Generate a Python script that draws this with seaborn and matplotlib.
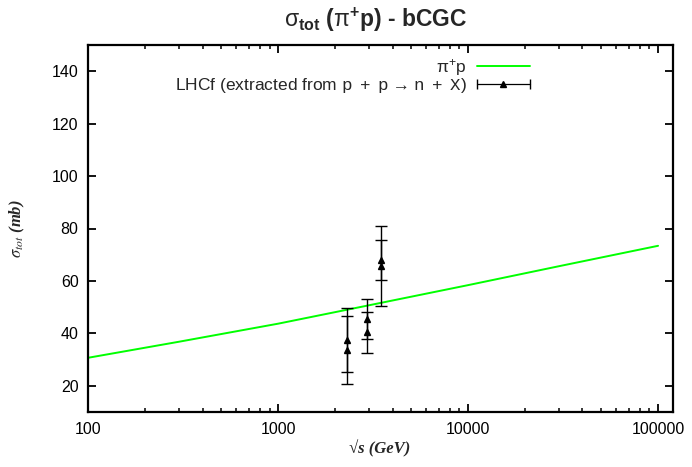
import matplotlib
matplotlib.use('Agg')
import matplotlib.pyplot as plt
import seaborn as sns
from matplotlib.lines import Line2D
from matplotlib.legend_handler import HandlerLine2D

# --- DATA ---
sqrt_s = [100, 300, 1000, 3000, 10000, 30000, 100000]
sigma_pip = [30.7, 36.8, 43.7, 50.7, 58.4, 65.6, 73.4]

lhcf_sqrt_s = [2290, 2290, 2950, 2950, 3470, 3470]
lhcf_sigma = [37.5, 33.5, 45.4, 40.4, 68.1, 65.7]
lhcf_err = [12.2, 13.0, 7.7, 7.8, 7.7, 15.2]

x_ticks = [100, 1000, 10000, 100000]
y_ticks = [20, 40, 60, 80, 100, 120, 140]

# --- STYLE ---
sns.set_style('ticks')
plt.rcParams['font.family'] = ['Liberation Sans', 'DejaVu Sans']
plt.rcParams['mathtext.fontset'] = 'custom'
plt.rcParams['mathtext.rm'] = 'Liberation Sans'
plt.rcParams['mathtext.it'] = 'Liberation Sans:italic'
plt.rcParams['mathtext.bf'] = 'Liberation Sans:bold'
plt.rcParams['mathtext.tt'] = 'Liberation Mono'

fig = plt.figure(figsize=(6.92, 4.67), dpi=100)
ax = fig.add_axes([88.3 / 692, 1 - 412 / 467, (672.7 - 88.3) / 692, (412 - 45) / 467])

# model curve
sns.lineplot(x=sqrt_s, y=sigma_pip, color='#00ff00', lw=1.4, ax=ax)

# LHCf points
ax.errorbar(lhcf_sqrt_s, lhcf_sigma, yerr=lhcf_err, fmt='^', color='black',
            ms=4, capsize=4.5, elinewidth=1, capthick=1)

ax.set_xscale('log')
ax.set_xlim(100, 119400)
ax.set_ylim(10, 150)
ax.set_xticks(x_ticks)
ax.set_xticklabels([str(t) for t in x_ticks])
ax.set_yticks(y_ticks)

for sp in ax.spines.values():
    sp.set_linewidth(1.6)
    sp.set_color('black')
    sp.set_visible(True)
ax.tick_params(which='both', direction='in', top=True, right=True, colors='black')
ax.tick_params(which='major', length=6, width=1.3, labelsize=11.5, pad=7)
ax.tick_params(which='minor', length=3, width=1.1)
ax.set_xlabel('')
ax.set_ylabel('')

# labels and title
fig.text(380 / 692, 1 - 449 / 467, '√s (GeV)', ha='center', va='center',
         family='Liberation Serif', weight='bold', style='italic', fontsize=12)
fig.text(17 / 692, 1 - 229 / 467, r'$\sigma_{tot}$ (mb)', ha='center', va='center',
         rotation=90, family='Liberation Serif', weight='bold', style='italic',
         fontsize=12, math_fontfamily='stix')
fig.text(376 / 692, 1 - 20 / 467, r'$\mathrm{\sigma}_{\mathbf{tot}}$ ($\mathrm{\pi}^{\mathbf{+}}$p) - bCGC',
         ha='center', va='center', weight='bold', fontsize=16.5)

# legend
green_h = Line2D([], [], color='#00ff00', lw=1.4)
tri_h = Line2D([], [], color='black', lw=0.9, marker='^', ms=4)
caps_h = Line2D([], [], color='none', marker='|', ms=7, mec='black', mew=1)
ax.legend([green_h, (tri_h, caps_h)],
          [r'$\mathrm{\pi}^{+}$p',
           r'LHCf (extracted from $\mathtt{p\ +\ p\ \rightarrow\ n\ +\ X}$)'],
          handler_map={tri_h: HandlerLine2D(numpoints=1),
                       caps_h: HandlerLine2D(numpoints=2, marker_pad=0)},
          loc='upper right', bbox_to_anchor=(539 / 692, 1 - 48 / 467),
          bbox_transform=fig.transFigure, frameon=False, markerfirst=False,
          handlelength=3.1, handletextpad=0.55, labelspacing=-0.08,
          borderpad=0, fontsize=12.5)

fig.savefig('out.png', dpi=100)
